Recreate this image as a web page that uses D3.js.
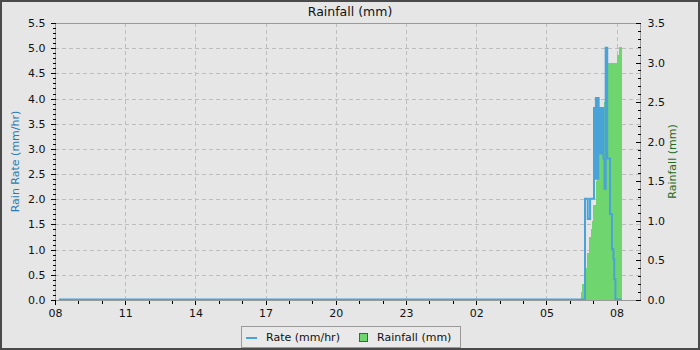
<!DOCTYPE html>
<html>
<head>
<meta charset="utf-8">
<script src="https://cdn.jsdelivr.net/npm/d3@7"></script>
<style>
  body { margin: 0; background: #e6e6e6; }
  text { font-family: "DejaVu Sans", sans-serif; }
</style>
</head>
<body>
<svg id="chart" width="700" height="350"></svg>
<script>
// rain rate (mm/hr), step data
const rateTimes = [
  "2024-06-01 08:10", "2024-06-02 06:39", "2024-06-02 06:46", "2024-06-02 06:52",
  "2024-06-02 07:02", "2024-06-02 07:03", "2024-06-02 07:04", "2024-06-02 07:05",
  "2024-06-02 07:06", "2024-06-02 07:07", "2024-06-02 07:08", "2024-06-02 07:09",
  "2024-06-02 07:10", "2024-06-02 07:11", "2024-06-02 07:12", "2024-06-02 07:13",
  "2024-06-02 07:14", "2024-06-02 07:15", "2024-06-02 07:16", "2024-06-02 07:17",
  "2024-06-02 07:18", "2024-06-02 07:19", "2024-06-02 07:20", "2024-06-02 07:21",
  "2024-06-02 07:26", "2024-06-02 07:29", "2024-06-02 07:32", "2024-06-02 07:36",
  "2024-06-02 07:43", "2024-06-02 07:48", "2024-06-02 07:52", "2024-06-02 07:54",
  "2024-06-02 07:57", "2024-06-02 08:13"
];
const rateValues = [
  0, 2.0, 1.6, 2.0,
  3.8, 2.4, 3.8, 2.4,
  3.8, 4.0, 2.4, 4.0,
  2.4, 4.0, 2.4, 4.0,
  2.9, 3.8, 2.9, 3.8,
  2.9, 3.8, 2.9, 3.8,
  2.8, 2.2, 5.0, 2.8,
  1.7, 1.0, 0.8, 0.4,
  0, 0
];

// cumulative rainfall (mm), each bar runs to the next time
const rainTimes = [
  "2024-06-02 06:28", "2024-06-02 06:31", "2024-06-02 06:36", "2024-06-02 06:42",
  "2024-06-02 06:45", "2024-06-02 06:49", "2024-06-02 06:54", "2024-06-02 06:58",
  "2024-06-02 07:00", "2024-06-02 07:06", "2024-06-02 07:09", "2024-06-02 07:16",
  "2024-06-02 07:22", "2024-06-02 07:28", "2024-06-02 07:31", "2024-06-02 07:37",
  "2024-06-02 08:00", "2024-06-02 08:07"
];
const rainTotals = [
  0.1, 0.2, 0.3, 0.4,
  0.6, 0.8, 0.9, 1.0,
  1.2, 1.5, 1.8, 2.1,
  2.4, 2.5, 2.8, 3.0,
  3.1, 3.2
];
const rainEnd = "2024-06-02 08:13";

const xStart = "2024-06-01 08:00";
const xEnd = "2024-06-02 09:00";
const leftTicks = [0, 0.5, 1.0, 1.5, 2.0, 2.5, 3.0, 3.5, 4.0, 4.5, 5.0, 5.5];
const rightTicks = [0, 0.5, 1.0, 1.5, 2.0, 2.5, 3.0, 3.5];

const parse = d3.timeParse("%Y-%m-%d %H:%M");

const W = 700, H = 350;
const plot = { left: 55, right: 640, top: 23, bottom: 300 };

const svg = d3.select("#chart");

// background + outer border
svg.append("rect")
  .attr("x", 1).attr("y", 1)
  .attr("width", W - 2).attr("height", H - 2)
  .attr("fill", "#e6e6e6")
  .attr("stroke", "#4a4a4a")
  .attr("stroke-width", 2);

const x = d3.scaleTime()
  .domain([parse(xStart), parse(xEnd)])
  .range([plot.left, plot.right]);
const yL = d3.scaleLinear().domain([0, 5.5]).range([plot.bottom, plot.top]);
const yR = d3.scaleLinear().domain([0, 3.5]).range([plot.bottom, plot.top]);

const majorX = d3.timeHour.range(parse(xStart), parse(xEnd), 3);
const minorX = d3.timeHour.range(parse(xStart), parse(xEnd));

//grid
const grid = svg.append("g")
  .attr("stroke", "#bdbdbd")
  .attr("stroke-dasharray", "4,3")
  .attr("shape-rendering", "crispEdges");
grid.selectAll(".hg")
  .data(leftTicks.filter(d => d > 0 && d < 5.5))
  .enter().append("line")
    .attr("x1", plot.left).attr("x2", plot.right)
    .attr("y1", d => Math.round(yL(d)) + 0.5)
    .attr("y2", d => Math.round(yL(d)) + 0.5);
grid.selectAll(".vg")
  .data(majorX)
  .enter().append("line")
    .attr("x1", d => Math.round(x(d)) + 0.5)
    .attr("x2", d => Math.round(x(d)) + 0.5)
    .attr("y1", plot.top).attr("y2", plot.bottom);

//rainfall bars
const rain = rainTimes.map((t, i) => ({
  start: parse(t),
  end: parse(i + 1 < rainTimes.length ? rainTimes[i + 1] : rainEnd),
  total: rainTotals[i]
}));
svg.append("g").selectAll("rect")
  .data(rain)
  .enter().append("rect")
    .attr("x", d => x(d.start))
    .attr("width", d => x(d.end) - x(d.start))
    .attr("y", d => yR(d.total))
    .attr("height", d => yR(0) - yR(d.total))
    .attr("fill", "#6fd66f")
    .attr("shape-rendering", "crispEdges");

//rate line
const rate = rateTimes.map((t, i) => ({ time: parse(t), value: rateValues[i] }));
svg.append("path")
  .datum(rate)
  .attr("fill", "none")
  .attr("stroke", "#4aa3d8")
  .attr("stroke-width", 2)
  .attr("d", d3.line()
    .x(d => x(d.time))
    .y(d => yL(d.value) - 0.5)
    .curve(d3.curveStepAfter));

// frame
svg.append("rect")
  .attr("x", plot.left + 0.5).attr("y", plot.top + 0.5)
  .attr("width", plot.right - plot.left).attr("height", plot.bottom - plot.top)
  .attr("fill", "none")
  .attr("stroke", "#999")
  .attr("stroke-width", 1);

//axes
function styleAxis(g) {
  g.select(".domain").remove();
  g.selectAll("line").attr("stroke", "#000").attr("shape-rendering", "crispEdges");
  g.selectAll("text").attr("fill", "#111").style("font-size", "11px")
    .style("font-family", "DejaVu Sans, sans-serif");
}

const minorL = d3.range(0, 55.5, 1).map(d => d / 10);
svg.append("g")
  .attr("transform", `translate(${plot.left + 0.5},0)`)
  .call(d3.axisLeft(yL).tickValues(minorL).tickSize(3).tickFormat(""))
  .call(styleAxis);
svg.append("g")
  .attr("transform", `translate(${plot.left + 0.5},0)`)
  .call(d3.axisLeft(yL).tickValues(leftTicks).tickSize(5).tickPadding(5).tickFormat(d3.format(".1f")))
  .call(styleAxis);

const minorR = d3.range(0, 35.5, 1).map(d => d / 10);
svg.append("g")
  .attr("transform", `translate(${plot.right + 0.5},0)`)
  .call(d3.axisRight(yR).tickValues(minorR).tickSize(-3).tickFormat(""))
  .call(styleAxis);
svg.append("g")
  .attr("transform", `translate(${plot.right + 0.5},0)`)
  .call(d3.axisRight(yR).tickValues(rightTicks).tickSize(-5).tickPadding(7).tickFormat(d3.format(".1f")))
  .call(styleAxis);

svg.append("g")
  .attr("transform", `translate(0,${plot.bottom + 0.5})`)
  .call(d3.axisBottom(x).tickValues(minorX).tickSize(3).tickFormat(""))
  .call(styleAxis);
svg.append("g")
  .attr("transform", `translate(0,${plot.bottom + 0.5})`)
  .call(d3.axisBottom(x).tickValues(majorX).tickSize(4).tickPadding(5).tickFormat(d3.timeFormat("%H")))
  .call(styleAxis);

// titles
svg.append("text")
  .attr("x", 350).attr("y", 16)
  .attr("text-anchor", "middle")
  .style("font-size", "12.5px")
  .attr("fill", "#111")
  .text("Rainfall (mm)");

svg.append("text")
  .attr("transform", `translate(19,${(plot.top + plot.bottom) / 2}) rotate(-90)`)
  .attr("text-anchor", "middle")
  .style("font-size", "11px")
  .attr("fill", "#2a7ab4")
  .text("Rain Rate (mm/hr)");

svg.append("text")
  .attr("transform", `translate(676,${(plot.top + plot.bottom) / 2}) rotate(-90)`)
  .attr("text-anchor", "middle")
  .style("font-size", "11px")
  .attr("fill", "#236b23")
  .text("Rainfall (mm)");

//legend
const legend = svg.append("g").attr("transform", "translate(241,326)");
legend.append("rect")
  .attr("x", 0.5).attr("y", 0.5)
  .attr("width", 219).attr("height", 21)
  .attr("fill", "#e9e9e9")
  .attr("stroke", "#999");
legend.append("line")
  .attr("x1", 5).attr("x2", 16)
  .attr("y1", 12).attr("y2", 12)
  .attr("stroke", "#4aa3d8")
  .attr("stroke-width", 2);
legend.append("text")
  .attr("x", 25).attr("y", 15)
  .style("font-size", "11px")
  .attr("fill", "#111")
  .text("Rate (mm/hr)");
legend.append("rect")
  .attr("x", 118.5).attr("y", 7.5)
  .attr("width", 8).attr("height", 8)
  .attr("fill", "#6fd66f")
  .attr("stroke", "#555");
legend.append("text")
  .attr("x", 136).attr("y", 15)
  .style("font-size", "11px")
  .attr("fill", "#111")
  .text("Rainfall (mm)");
</script>
</body>
</html>
